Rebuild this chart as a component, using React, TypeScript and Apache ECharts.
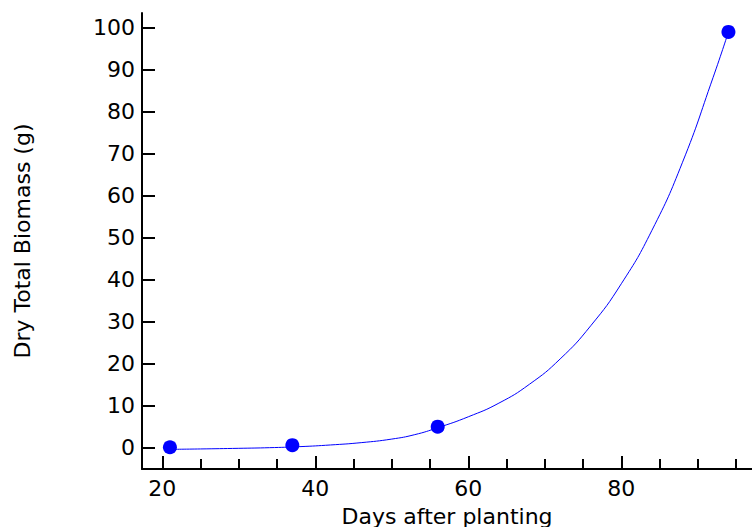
import React, { useEffect, useRef } from "react";
import * as echarts from "echarts";

const xMajorTicks = [20, 40, 60, 80];
const xMinorTicks = [25, 30, 35, 45, 50, 55, 65, 70, 75, 85, 90, 95];
const yTicks = [0, 10, 20, 30, 40, 50, 60, 70, 80, 90, 100];

const sampleDays = [21, 37, 56, 94];
const sampleBiomass = [0.1, 0.6, 5.0, 98.9];

const curveDays = [21, 25, 30, 34, 38, 42, 46, 50, 53, 56, 60, 64, 68, 72, 76, 80, 84, 88, 92, 94];
const curveBiomass = [-0.4, -0.3, -0.15, 0.0, 0.25, 0.65, 1.2, 2.05, 3.1, 4.75, 7.35, 10.6, 15.1, 21.1, 29.0, 39.0, 51.7, 67.9, 88.1, 98.9];

const FONT = "DejaVu Sans";

export default function App() {
  const ref = useRef<HTMLDivElement>(null);
  useEffect(() => {
    document.body.style.margin = "0";
    const chart = echarts.init(ref.current!, null, { renderer: "svg" });
    const xMin = 17.35;
    const xMax = 97.08;
    chart.setOption({
      animation: false,
      backgroundColor: "#ffffff",
      grid: { left: 142, right: 0, top: 13, bottom: 58, containLabel: false, outerBoundsMode: "none" },
      xAxis: [
        {
          type: "value",
          min: xMin,
          max: xMax,
          splitLine: { show: false },
          axisLine: { show: true, onZero: false, lineStyle: { color: "#000", width: 2 } },
          axisTick: { show: true, inside: true, length: 13, customValues: xMajorTicks, lineStyle: { color: "#000", width: 2 } },
          axisLabel: { show: true, customValues: xMajorTicks, color: "#000", fontFamily: FONT, fontSize: 22, margin: 8 },
          name: "Days after planting",
          nameLocation: "middle",
          nameGap: 36,
          nameTextStyle: { color: "#000", fontFamily: FONT, fontSize: 22 },
        },
        {
          type: "value",
          position: "bottom",
          min: xMin,
          max: xMax,
          splitLine: { show: false },
          axisLine: { show: false, onZero: false },
          axisTick: { show: true, inside: true, length: 10, customValues: xMinorTicks, lineStyle: { color: "#000", width: 2 } },
          axisLabel: { show: false },
        },
      ],
      yAxis: {
        type: "value",
        min: -5.07,
        max: 103.4,
        splitLine: { show: false },
        axisLine: { show: true, onZero: false, lineStyle: { color: "#000", width: 2 } },
        axisTick: { show: true, inside: true, length: 13, customValues: yTicks, lineStyle: { color: "#000", width: 2 } },
        axisLabel: { show: true, customValues: yTicks, color: "#000", fontFamily: FONT, fontSize: 22, margin: 7 },
        name: "Dry Total Biomass (g)",
        nameLocation: "middle",
        nameGap: 109,
        nameTextStyle: { color: "#000", fontFamily: FONT, fontSize: 22 },
      },
      series: [
        {
          type: "line",
          data: curveDays.map((d, i) => [d, curveBiomass[i]]),
          smooth: true,
          showSymbol: false,
          lineStyle: { color: "#0000ff", width: 1 },
          z: 2,
        },
        {
          type: "scatter",
          data: sampleDays.map((d, i) => [d, sampleBiomass[i]]),
          symbol: "circle",
          symbolSize: 14,
          itemStyle: { color: "#0000ff", opacity: 1 },
          z: 3,
        },
      ],
    });
    return () => chart.dispose();
  }, []);
  return <div ref={ref} style={{ width: 752, height: 527 }} />;
}
